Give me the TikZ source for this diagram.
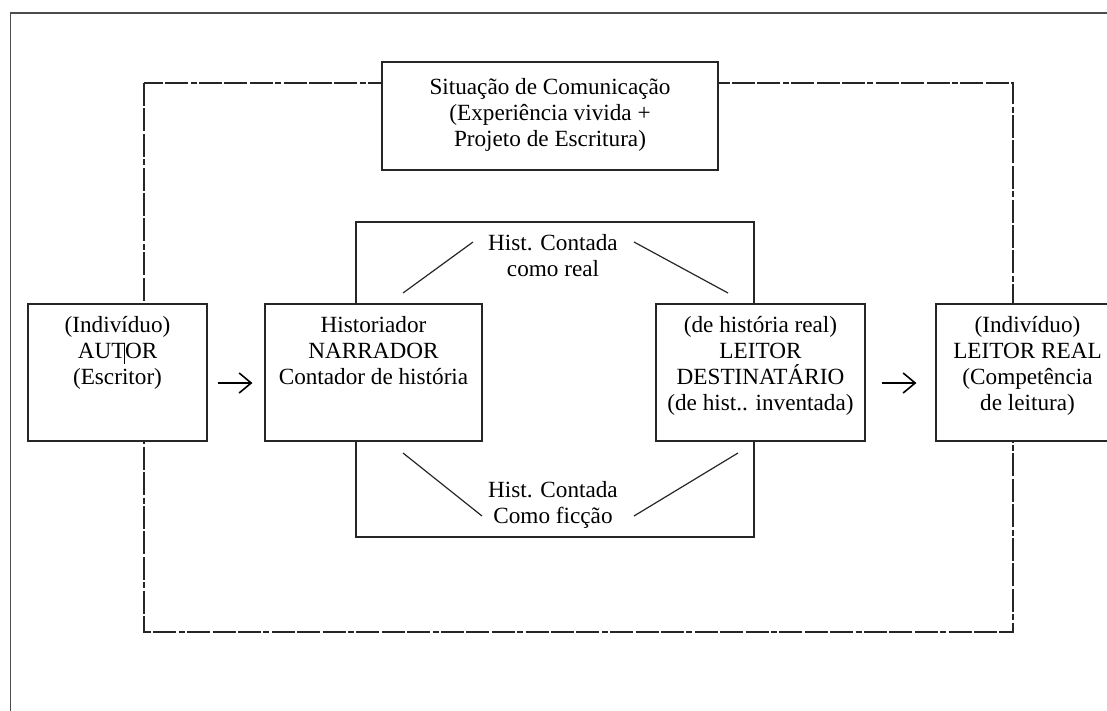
\documentclass[tikz,border=0pt]{standalone}
\usepackage{fontspec}
\setmainfont{Liberation Serif}
\usetikzlibrary{arrows.meta,calc,fit}
\begin{document}
\begin{tikzpicture}[x=0.5pt,y=-0.5pt,
  box/.style={draw=black!85, line width=0.6pt, fill=white, inner sep=0pt},
  lbl/.style={align=center, inner sep=0pt, anchor=north, font=\fontsize{11.6}{13}\selectfont},
  dashframe/.style={draw=black!85, line width=0.8pt,
    dash pattern=on 11.5pt off 1.2pt on 11.5pt off 1.2pt on 11.5pt off 1.2pt on 3pt off 1.2pt},
  link/.style={draw=black!85, line width=0.6pt},
  flow/.style={draw=black, line width=0.8pt, -{Straight Barb[length=6pt,width=10pt]}}]
\useasboundingbox (0,0) rectangle (1107,711);
\clip (0,0) rectangle (1107,711);
% page frame
\draw[draw=black!70, line width=0.9pt] (10.5,720) -- (10.5,13) -- (1120,13);
% communication situation (dashed frame)
\draw[dashframe] (144,83) rectangle (1013,632);
% narrative frame
\draw[link] (356,222) rectangle (754,537);
% diagonals of the narrative frame
\coordinate (tlA) at (403,293); \coordinate (tlB) at (473,242);
\coordinate (trA) at (634,242); \coordinate (trB) at (728,293);
\coordinate (blA) at (403,453); \coordinate (blB) at (482,516);
\coordinate (brA) at (634,516); \coordinate (brB) at (738,453);
\draw[link] (tlA) -- (tlB);
\draw[link] (trA) -- (trB);
\draw[link] (blA) -- (blB);
\draw[link] (brA) -- (brB);
\node[lbl] (real) at (553,234) {Hist. Contada\\como real};
\node[lbl] (ficcao) at (553,481) {Hist. Contada\\Como ficção};
% boxes
\node[box, fit={(382,62)(718,170)}] (situacao) {};
\node[lbl] at (550,78) {Situação de Comunicação\\(Experiência vivida +\\Projeto de Escritura)};
\node[box, fit={(28,304)(207,441)}] (autor) {};
\node[lbl] at (117.5,316) {(Indivíduo)\\AUTOR\\(Escritor)};
\draw[line width=0.5pt] (124,345) -- (124,364);
\node[box, fit={(265,304)(482,441)}] (narrador) {};
\node[lbl] at (373.5,316) {Historiador\\NARRADOR\\Contador de história};
\node[box, fit={(656,304)(865,441)}] (destino) {};
\node[lbl] at (760.5,316) {(de história real)\\LEITOR\\DESTINATÁRIO\\(de hist.. inventada)};
\node[box, fit={(936,304)(1125,441)}] (leitor) {};
\node[lbl] at (1027.5,316) {(Indivíduo)\\LEITOR REAL\\(Competência\\de leitura)};
% flow arrows
\draw[flow] ($(autor.east)+(10,10.5)$) -- ($(narrador.west)+(-12,10.5)$);
\draw[flow] ($(destino.east)+(16,10.5)$) -- ($(leitor.west)+(-19,10.5)$);
\end{tikzpicture}
\end{document}
